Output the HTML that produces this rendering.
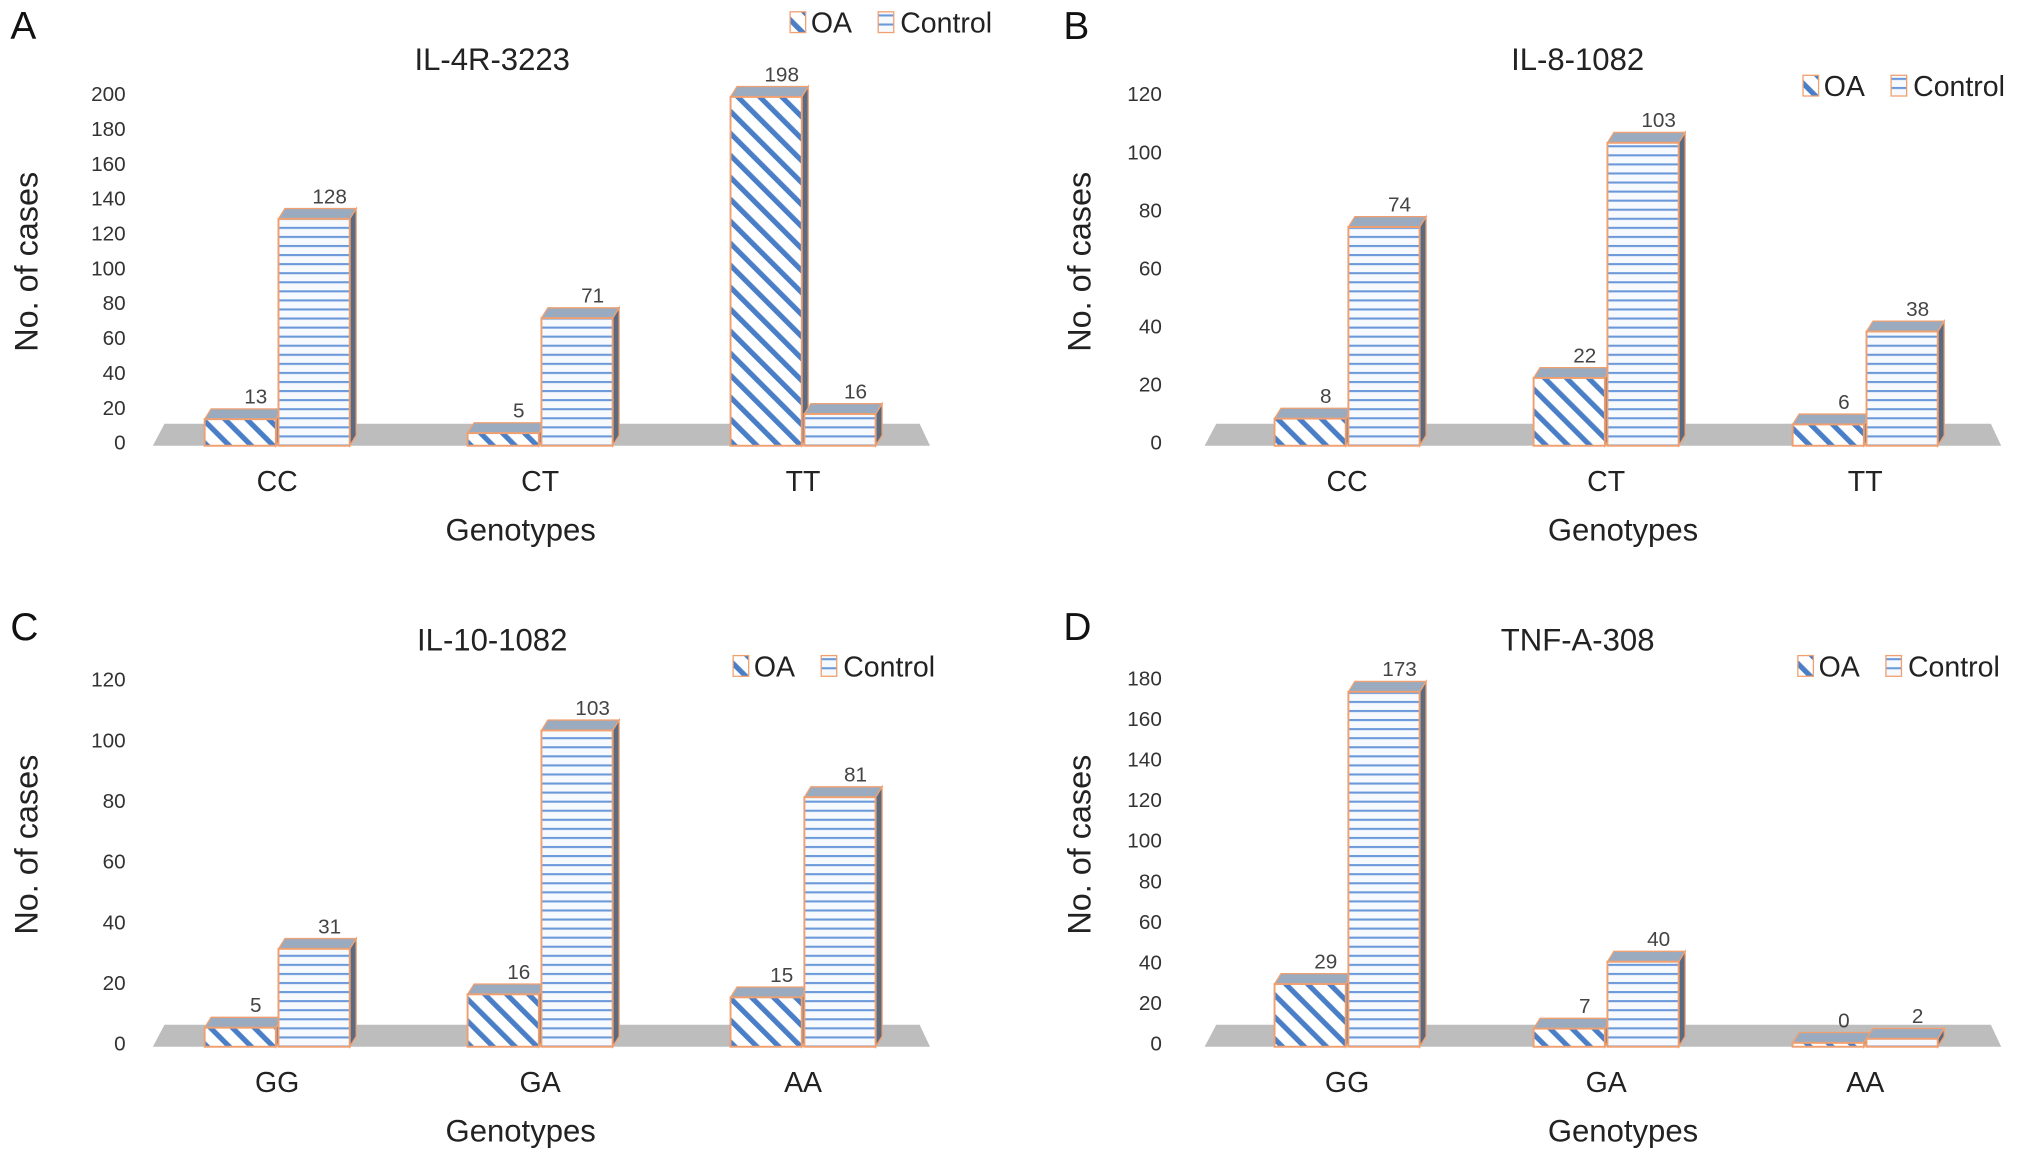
<!DOCTYPE html>
<html><head><meta charset="utf-8"><style>
html,body{margin:0;padding:0;background:#fff;}
svg{display:block;font-family:"Liberation Sans",Arial,sans-serif;}
</style></head><body>
<svg id="fig" width="2031" height="1157" viewBox="0 0 1568 893" xmlns="http://www.w3.org/2000/svg">
<defs>
<pattern id="diag" patternUnits="userSpaceOnUse" width="12" height="12" patternTransform="rotate(-45)">
<rect width="12" height="12" fill="#fff"/><rect width="4" height="12" fill="#4a7fc8"/></pattern>
<pattern id="horiz" patternUnits="userSpaceOnUse" width="8" height="7">
<rect width="8" height="7" fill="#f6f9fd"/><rect y="0" width="8" height="1.6" fill="#6a98d8"/></pattern>
</defs>
</svg>
<script>
const svgNS='http://www.w3.org/2000/svg';
const fig=document.getElementById('fig');
const series=['OA','Control'];
const titleA='IL-4R-3223', catsA=['CC','CT','TT'], oaA=[13,5,198], ctlA=[128,71,16], ticksA=[0,20,40,60,80,100,120,140,160,180,200];
const titleB='IL-8-1082', catsB=['CC','CT','TT'], oaB=[8,22,6], ctlB=[74,103,38], ticksB=[0,20,40,60,80,100,120];
const titleC='IL-10-1082', catsC=['GG','GA','AA'], oaC=[5,16,15], ctlC=[31,103,81], ticksC=[0,20,40,60,80,100,120];
const titleD='TNF-A-308', catsD=['GG','GA','AA'], oaD=[29,7,0], ctlD=[173,40,2], ticksD=[0,20,40,60,80,100,120,140,160,180];

function mk(tag,attrs,parent,text){const e=document.createElementNS(svgNS,tag);for(const k in attrs)e.setAttribute(k,attrs[k]);if(text!==undefined)e.textContent=text;(parent||fig).appendChild(e);return e;}

function panel(letter,ox,oy,title,cats,oa,ctl,ticks,legX,legY,o){
  const g=mk('g',{transform:`translate(${ox},${oy})`});
  
  
  const y0=341, yTop=o.yTop, maxV=ticks[ticks.length-1];
  const Y=v=>y0-(v/maxV)*(y0-yTop);
  const X=i=>o.g0+i*o.gs;
  let t=mk('text',{x:8,y:30,'font-size':30,fill:'#111'},g,letter);
  
  t=mk('text',{x:o.tx,y:o.ty,'font-size':24,'text-anchor':'middle',fill:'#222'},g,title);
  
  ticks.forEach(v=>{const e=mk('text',{x:o.tick,y:Y(v)+6,'font-size':16,'text-anchor':'end',fill:'#333'},g,v);
    });
  t=mk('text',{x:0,y:0,'font-size':25,'text-anchor':'middle',fill:'#222',transform:`translate(29,${o.yt}) rotate(-90)`},g,'No. of cases');
  
  const fl=mk('polygon',{points:`${o.f0+9},327 ${o.f1-8},327 ${o.f1},344 ${o.f0},344`,fill:'#bdbdbd'},g);
  
  cats.forEach((c,i)=>{
    const cx=X(i);
    [[oa[i],cx-56,'url(#diag)','oa'],[ctl[i],cx+1,'url(#horiz)','control']].forEach(([v,bx,fill,nm])=>{
      const w=55, dx=5, dy=8, top=Y(v), base=y0+3;
      const bg=mk('g',{},g);
      
      mk('polygon',{points:`${bx+w},${top} ${bx+w+dx},${top-dy} ${bx+w+dx},${base-dy} ${bx+w},${base}`,fill:'#5a6a80',stroke:'#f0a070','stroke-width':1},bg);
      mk('polygon',{points:`${bx},${top} ${bx+dx},${top-dy} ${bx+w+dx},${top-dy} ${bx+w},${top}`,fill:'#9aabc0',stroke:'#f0a070','stroke-width':1},bg);
      mk('rect',{x:bx,y:top,width:w,height:Math.max(0,base-top),fill:fill,stroke:'#f0a070','stroke-width':1.5},bg);
      const lb=mk('text',{x:bx+w/2+12,y:top-12,'font-size':16,'text-anchor':'middle',fill:'#444'},g,v);
      
    });
    const cl=mk('text',{x:cx,y:379,'font-size':22,'text-anchor':'middle',fill:'#222'},g,c);
    
  });
  t=mk('text',{x:o.gx,y:417,'font-size':24,'text-anchor':'middle',fill:'#222'},g,'Genotypes');
  
  const lg=mk('g',{transform:`translate(${legX},${legY})`},g);
  
  const e1=mk('g',{},lg);
  mk('rect',{x:0,y:-9,width:12,height:16,fill:'url(#diag)',stroke:'#f0a070'},e1);
  mk('text',{x:16,y:7,'font-size':22,fill:'#222'},e1,series[0]);
  const e2=mk('g',{},lg);
  mk('rect',{x:68,y:-9,width:12,height:16,fill:'url(#horiz)',stroke:'#f0a070'},e2);
  mk('text',{x:85,y:7,'font-size':22,fill:'#222'},e2,series[1]);
}
const left={g0:214,gs:203,tick:97,tx:380,f0:118,f1:718,gx:402};
const right={g0:227,gs:200,tick:84,tx:405,f0:117,f1:732,gx:440};
panel('A',0,0,titleA,catsA,oaA,ctlA,ticksA,610,18,Object.assign({},left,{yTop:72,ty:54,yt:202}));
panel('B',813,0,titleB,catsB,oaB,ctlB,ticksB,579,67,Object.assign({},right,{yTop:72,ty:54,yt:202}));
panel('C',0,464,titleC,catsC,oaC,ctlC,ticksC,566,51,Object.assign({},left,{yTop:60,ty:38,yt:188}));
panel('D',813,464,titleD,catsD,oaD,ctlD,ticksD,575,51,Object.assign({},right,{yTop:59,ty:38,yt:188}));
</script>
</body></html>
